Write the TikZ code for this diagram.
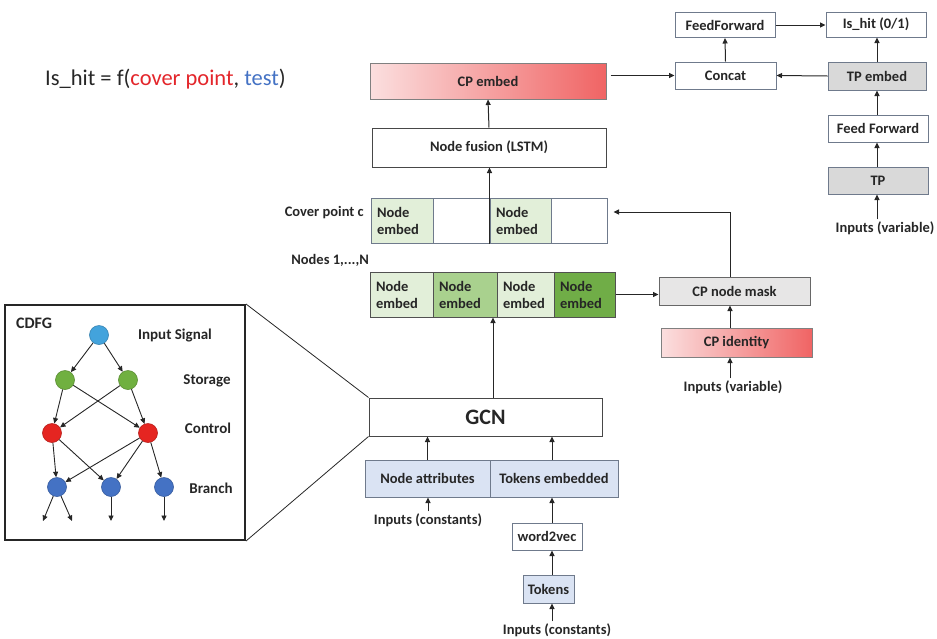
\documentclass[tikz,border=0pt]{standalone}
\usepackage{fontspec}
\setmainfont{Carlito}
\usetikzlibrary{arrows.meta}

\definecolor{edgegray}{HTML}{6F7A8C}
\definecolor{inkgray}{HTML}{262626}
\definecolor{lightgreen}{HTML}{E2EFD9}
\definecolor{midgreen}{HTML}{A9D18E}
\definecolor{darkgreen}{HTML}{70AD47}
\definecolor{lightblue}{HTML}{DAE3F3}
\definecolor{lightgray}{HTML}{E7E6E6}
\definecolor{tpgray}{HTML}{D9D9D9}
\definecolor{pinkL}{HTML}{FBDFDF}
\definecolor{pinkR}{HTML}{F06464}
\definecolor{titlered}{HTML}{E3262B}
\definecolor{titleblue}{HTML}{4472C4}
\definecolor{sigblue}{HTML}{43A3DC}
\definecolor{storegreen}{HTML}{70B040}
\definecolor{ctrlred}{HTML}{E52521}
\definecolor{branchblue}{HTML}{4472C4}

\tikzset{
  box/.style={draw=edgegray, line width=1pt, inner sep=0pt, text=inkgray,
    font=\bfseries\fontsize{14.5}{16}\selectfont},
  cell/.style={box, draw=inkgray!80, align=left, text width=#1-12pt,
    minimum width=#1, minimum height=45pt,
    font=\bfseries\fontsize{14.5}{17}\selectfont},
  cellb/.style={cell=#1, draw=edgegray},
  lbl/.style={inner sep=0pt, text=inkgray, font=\bfseries\fontsize{14.5}{16}\selectfont},
  glbl/.style={lbl, font=\bfseries\fontsize{15}{17}\selectfont},
  arr/.style={-{Triangle[length=5.5pt,width=5pt]}, line width=1pt, draw=inkgray},
  cdfgarr/.style={-{Triangle[length=5.5pt,width=5pt]}, line width=0.9pt, draw=inkgray},
  gnode/.style={circle, minimum size=19pt, inner sep=0pt, line width=0.6pt,
    draw=#1!80!black, fill=#1},
  redgrad/.style={left color=pinkL, right color=pinkR}
}

\begin{document}
\begin{tikzpicture}[x=1pt, y=-1pt]
\useasboundingbox (0,0) rectangle (937,638);

% formula
\node[anchor=west, inner sep=0pt, text=inkgray, font=\fontsize{22.5}{25}\selectfont]
  (formula) at (45,79) {Is\_hit = f(\textcolor{titlered}{cover point}, \textcolor{titleblue}{test})};

% cover point branch
\node[box, redgrad, draw=gray, minimum width=236pt, minimum height=36pt] (cpembed) at (488,81) {CP embed};
\node[box, draw=inkgray!85, minimum width=234pt, minimum height=39pt] (fusion) at (489,147.5) {Node fusion (LSTM)};

\node[cellb=62pt, fill=lightgreen] (c1) at (402,220.5) {Node\\embed};
\node[cellb=57pt, fill=white] (c2) at (461.5,220.5) {};
\node[cellb=61pt, fill=lightgreen] (c3) at (520.5,220.5) {Node\\embed};
\node[cellb=56pt, fill=white] (c4) at (579,220.5) {};
\node[lbl, anchor=east] (coverlbl) at (364,213) {Cover point c};

\node[lbl, anchor=east] (nodeslbl) at (369,260) {Nodes 1,...,N};
\node[cell=63pt, fill=lightgreen] (n1) at (401.5,294.5) {Node\\embed};
\node[cell=64pt, fill=midgreen] (n2) at (465,294.5) {Node\\embed};
\node[cell=57pt, fill=lightgreen] (n3) at (525.5,294.5) {Node\\embed};
\node[cell=61pt, fill=darkgreen] (n4) at (584.5,294.5) {Node\\embed};

\node[box, fill=lightgray, draw=inkgray!70, minimum width=151pt, minimum height=28pt] (mask) at (734.5,291) {CP node mask};
\node[box, redgrad, draw=gray, minimum width=151pt, minimum height=29pt] (cpid) at (736.5,342.5) {CP identity};
\node[lbl] (invarA) at (733,387) {Inputs (variable)};

% test branch
\node[box, minimum width=100pt, minimum height=25pt] (ff) at (725,25) {FeedForward};
\node[box, minimum width=100pt, minimum height=25pt] (ishit) at (876,24.5) {Is\_hit (0/1)};
\node[box, minimum width=101pt, minimum height=27pt] (concat) at (725.5,75.5) {Concat};
\node[box, fill=tpgray, minimum width=98pt, minimum height=28pt] (tpembed) at (877,76) {TP embed};
\node[box, minimum width=100pt, minimum height=27pt] (tpff) at (878,128.5) {Feed Forward};
\node[box, fill=tpgray, minimum width=100pt, minimum height=27pt] (tp) at (878,180.5) {TP};
\node[lbl] (invarB) at (885,228) {Inputs (variable)};

% graph encoder
\node[box, draw=inkgray!85, font=\bfseries\fontsize{22}{24}\selectfont,
  minimum width=233pt, minimum height=38pt] (gcn) at (485.5,417) {GCN};
\node[box, fill=lightblue, minimum width=125pt, minimum height=37pt] (attr) at (427.5,478.5) {Node attributes};
\node[box, fill=lightblue, minimum width=128pt, minimum height=37pt] (tokemb) at (554,478.5) {Tokens embedded};
\node[lbl] (inconA) at (428,520) {Inputs (constants)};
\node[box, minimum width=70pt, minimum height=27pt] (w2v) at (547,536.5) {word2vec};
\node[box, fill=lightblue, minimum width=51pt, minimum height=28pt] (tokens) at (548.5,589) {Tokens};
\node[lbl] (inconB) at (557,630) {Inputs (constants)};

% connectors
\draw[arr] (fusion.north) -- (cpembed.south);
\draw[arr] (c3.south west) -- (c3.south west |- fusion.south);
\draw[arr] ([xshift=7.5pt]gcn.north) -- ([xshift=7.5pt]gcn.north |- n2.south);
\draw[arr] (n4.east) -- (n4.east -| mask.west);
\draw[arr] ([xshift=-4.5pt]mask.north) |- ([xshift=6pt,yshift=8.5pt]c4.east);
\draw[arr] ([xshift=-6.5pt]cpid.north) -- ([xshift=-6.5pt]cpid.north |- mask.south);
\draw[arr] (invarA.north -| cpid.north) ++(-6.5pt,2pt) coordinate (ia) (ia) -- (ia |- cpid.south);

\draw[arr] ([xshift=4pt]cpembed.east |- concat.west) -- (concat.west);
\draw[arr] (tpembed.west) -- (concat.east);
\draw[arr] (concat.north) -- (ff.south);
\draw[arr] (ff.east) -- (ff.east -| ishit.west);
\draw[arr] (tpembed.north) -- (tpembed.north |- ishit.south);
\draw[arr] (tpff.north -| tpembed.north) -- (tpembed.south);
\draw[arr] (tp.north -| tpembed.north) -- (tpembed.north |- tpff.south);
\draw[arr] ([yshift=2pt]invarB.north -| tpembed.north) -- (tpembed.north |- tp.south);

\draw[arr] (attr.north) -- (attr.north |- gcn.south);
\draw[arr] ([xshift=-2pt]tokemb.north) -- ([xshift=-2pt]tokemb.north |- gcn.south);
\draw[arr] ([yshift=2pt]inconA.north) -- (inconA.north |- attr.south);
\draw[arr] ([xshift=-2pt]tokemb.north |- w2v.north) -- ([xshift=-2pt]tokemb.south);
\draw[arr] ([xshift=-2pt]tokemb.north |- tokens.north) -- ([xshift=-2pt]tokemb.north |- w2v.south);
\draw[arr] ([xshift=-2pt, yshift=2pt]tokemb.north |- inconB.north) -- ([xshift=-2pt]tokemb.north |- tokens.south);

% CDFG inset
\node[draw=inkgray, line width=2pt, minimum width=240pt, minimum height=235pt,
  inner sep=0pt] (cdfg) at (125,422.5) {};
\draw[line width=0.8pt, draw=inkgray] (cdfg.north east) -- (gcn.north west);
\draw[line width=0.8pt, draw=inkgray] (cdfg.south east) -- (gcn.south west);
\node[lbl, anchor=west, font=\bfseries\fontsize{16}{18}\selectfont] (cdfgtitle) at (16,323) {CDFG};

\node[gnode=sigblue] (in) at (99,335) {};
\node[gnode=storegreen] (s1) at (65,380) {};
\node[gnode=storegreen] (s2) at (128,380) {};
\node[gnode=ctrlred] (k1) at (52,433) {};
\node[gnode=ctrlred] (k2) at (148,433) {};
\node[gnode=branchblue] (b1) at (57,487) {};
\node[gnode=branchblue] (b2) at (111,487) {};
\node[gnode=branchblue] (b3) at (164,487) {};

\node[glbl] (lin) at (175,335) {Input Signal};
\node[glbl] (lst) at (207,381) {Storage};
\node[glbl] (lct) at (208,428) {Control};
\node[glbl] (lbr) at (211,488) {Branch};

\coordinate (o1) at (43,521);
\coordinate (o2) at (72,521);
\coordinate (o3) at (111,521);
\coordinate (o4) at (164,521);

\draw[cdfgarr] (in) -- (s1);
\draw[cdfgarr] (in) -- (s2);
\draw[cdfgarr] (s1) -- (k1);
\draw[cdfgarr] (s1) -- (k2);
\draw[cdfgarr] (s2) -- (k1);
\draw[cdfgarr] (s2) -- (k2);
\draw[cdfgarr] (k1) -- (b1);
\draw[cdfgarr] (k1) -- (b2);
\draw[cdfgarr] (k2) -- (b1);
\draw[cdfgarr] (k2) -- (b2);
\draw[cdfgarr] (k2) -- (b3);
\draw[cdfgarr] (b1) -- (o1);
\draw[cdfgarr] (b1) -- (o2);
\draw[cdfgarr] (b2) -- (o3);
\draw[cdfgarr] (b3) -- (o4);
\end{tikzpicture}
\end{document}
